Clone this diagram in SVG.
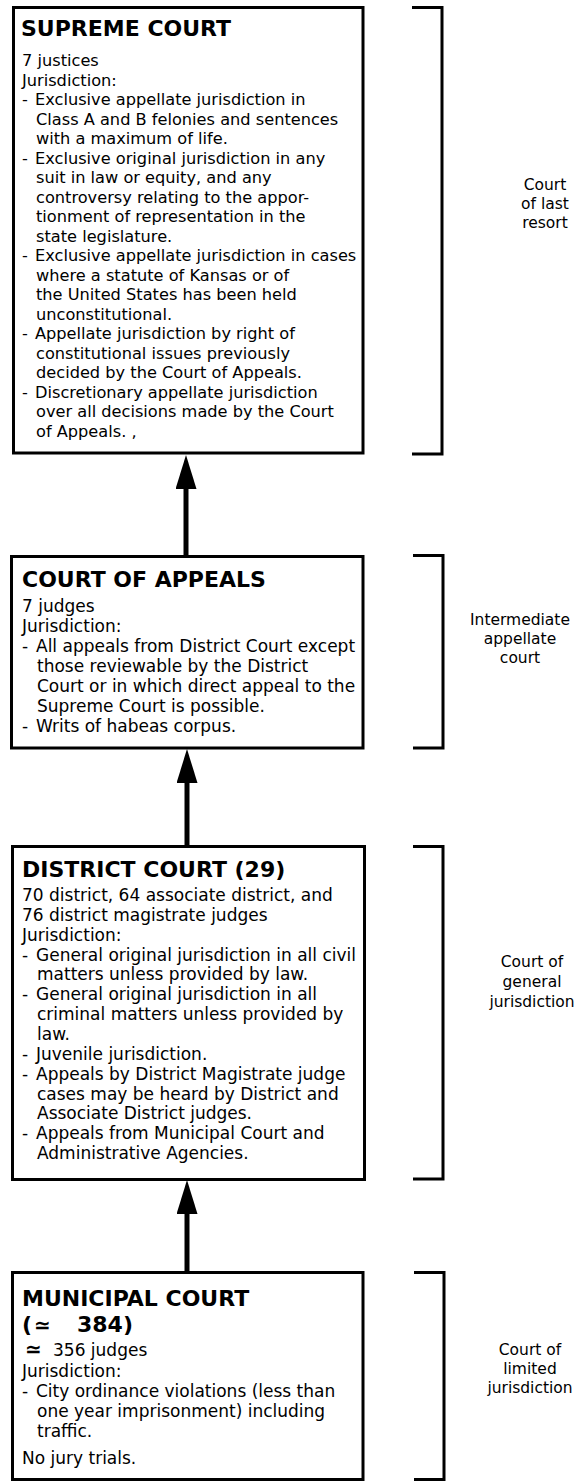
<svg xmlns="http://www.w3.org/2000/svg" width="579" height="1482" viewBox="0 0 579 1482">
<style>
.box{fill:#fff;stroke:#000;stroke-width:3}
.bracket{fill:none;stroke:#000;stroke-width:3}
.title{font-family:"DejaVu Sans",sans-serif;font-weight:bold;font-size:22px;fill:#000}
.body{font-family:"DejaVu Sans",sans-serif;font-size:17px;fill:#000}
.sbody{font-family:"DejaVu Sans",sans-serif;font-size:16.2px;fill:#000}
.label{font-family:"DejaVu Sans",sans-serif;font-size:15.5px;text-anchor:middle;fill:#000}
.conn{stroke:#000;stroke-width:5;fill:none;marker-end:url(#head)}
</style>
<defs>
<marker id="head" markerUnits="userSpaceOnUse" markerWidth="34" markerHeight="21" viewBox="0 0 34 21" refX="0" refY="10.5" orient="auto">
<path d="M0,0 L34,10.5 L0,21 Z" fill="#000"/>
</marker>
</defs>
<rect width="579" height="1482" fill="#fff"/>

<g id="connectors">
<line class="conn" x1="186" y1="556" x2="186" y2="489"/>
<line class="conn" x1="187" y1="846" x2="187" y2="783"/>
<line class="conn" x1="187" y1="1272" x2="187" y2="1214"/>
</g>

<g id="supreme-court">
<rect class="box" x="13.5" y="7.5" width="349.5" height="445.5"/>
<text class="title" x="21" y="36" font-size="21.5">SUPREME COURT</text>
<text class="sbody" x="22" y="66">7 justices</text>
<text class="sbody" x="22" y="85.5">Jurisdiction:</text>
<text class="sbody" y="105"><tspan x="22">- </tspan><tspan x="35">Exclusive appellate jurisdiction in</tspan></text>
<text class="sbody" x="36" y="124.5">Class A and B felonies and sentences</text>
<text class="sbody" x="36" y="144">with a maximum of life.</text>
<text class="sbody" y="163.5"><tspan x="22">- </tspan><tspan x="35">Exclusive original jurisdiction in any</tspan></text>
<text class="sbody" x="36" y="183">suit in law or equity, and any</text>
<text class="sbody" x="36" y="202.5">controversy relating to the appor-</text>
<text class="sbody" x="36" y="222">tionment of representation in the</text>
<text class="sbody" x="36" y="241.5">state legislature.</text>
<text class="sbody" y="261"><tspan x="22">- </tspan><tspan x="35">Exclusive appellate jurisdiction in cases</tspan></text>
<text class="sbody" x="36" y="280.5">where a statute of Kansas or of</text>
<text class="sbody" x="36" y="300">the United States has been held</text>
<text class="sbody" x="36" y="319.5">unconstitutional.</text>
<text class="sbody" y="339"><tspan x="22">- </tspan><tspan x="35">Appellate jurisdiction by right of</tspan></text>
<text class="sbody" x="36" y="358.5">constitutional issues previously</text>
<text class="sbody" x="36" y="378">decided by the Court of Appeals.</text>
<text class="sbody" y="397.5"><tspan x="22">- </tspan><tspan x="35">Discretionary appellate jurisdiction</tspan></text>
<text class="sbody" x="36" y="417">over all decisions made by the Court</text>
<text class="sbody" x="36" y="436.5">of Appeals. ,</text>
</g>

<g id="tier-last-resort">
<polyline class="bracket" points="412,7.5 442,7.5 442,454 412,454"/>
<text class="label" x="545" y="190">Court</text>
<text class="label" x="545" y="209">of last</text>
<text class="label" x="545" y="228">resort</text>
</g>

<g id="court-of-appeals">
<rect class="box" x="11.5" y="556.5" width="351.5" height="191.5"/>
<text class="title" x="22" y="587">COURT OF APPEALS</text>
<text class="body" x="22" y="612">7 judges</text>
<text class="body" x="22" y="632">Jurisdiction:</text>
<text class="body" y="652"><tspan x="22">- </tspan><tspan x="36">All appeals from District Court except</tspan></text>
<text class="body" x="37" y="672">those reviewable by the District</text>
<text class="body" x="37" y="692">Court or in which direct appeal to the</text>
<text class="body" x="37" y="711.5">Supreme Court is possible.</text>
<text class="body" y="731.5"><tspan x="22">- </tspan><tspan x="36">Writs of habeas corpus.</tspan></text>
</g>

<g id="tier-intermediate">
<polyline class="bracket" points="413,555.5 443,555.5 443,748 413,748"/>
<text class="label" x="520" y="625">Intermediate</text>
<text class="label" x="520" y="644">appellate</text>
<text class="label" x="520" y="663">court</text>
</g>

<g id="district-court">
<rect class="box" x="12.5" y="846.5" width="352" height="333"/>
<text class="title" x="22" y="877" font-size="22.6">DISTRICT COURT (29)</text>
<text class="body" x="22" y="901">70 district, 64 associate district, and</text>
<text class="body" x="22" y="921">76 district magistrate judges</text>
<text class="body" x="22" y="940.7">Jurisdiction:</text>
<text class="body" y="960.5"><tspan x="22">- </tspan><tspan x="36">General original jurisdiction in all civil</tspan></text>
<text class="body" x="37" y="980.4">matters unless provided by law.</text>
<text class="body" y="1000.2"><tspan x="22">- </tspan><tspan x="36">General original jurisdiction in all</tspan></text>
<text class="body" x="37" y="1020">criminal matters unless provided by</text>
<text class="body" x="37" y="1040">law.</text>
<text class="body" y="1060"><tspan x="22">- </tspan><tspan x="36">Juvenile jurisdiction.</tspan></text>
<text class="body" y="1080"><tspan x="22">- </tspan><tspan x="36">Appeals by District Magistrate judge</tspan></text>
<text class="body" x="37" y="1099.5">cases may be heard by District and</text>
<text class="body" x="37" y="1119">Associate District judges.</text>
<text class="body" y="1139"><tspan x="22">- </tspan><tspan x="36">Appeals from Municipal Court and</tspan></text>
<text class="body" x="37" y="1159">Administrative Agencies.</text>
</g>

<g id="tier-general">
<polyline class="bracket" points="413,846.5 443,846.5 443,1179 413,1179"/>
<text class="label" x="532" y="967">Court of</text>
<text class="label" x="532" y="987">general</text>
<text class="label" x="532" y="1007">jurisdiction</text>
</g>

<g id="municipal-court">
<rect class="box" x="12.5" y="1272.5" width="350.5" height="207"/>
<text class="title" x="22" y="1306" font-size="22.8">MUNICIPAL COURT</text>
<text class="title" y="1332" font-size="19"><tspan x="22">(</tspan><tspan x="34" font-size="20">≃</tspan><tspan x="77">384)</tspan></text>
<text class="body" y="1356"><tspan x="25" font-size="20" font-weight="bold">≃</tspan><tspan x="53">356 judges</tspan></text>
<text class="body" x="22" y="1377">Jurisdiction:</text>
<text class="body" y="1397"><tspan x="22">- </tspan><tspan x="36">City ordinance violations (less than</tspan></text>
<text class="body" x="37" y="1417">one year imprisonment) including</text>
<text class="body" x="37" y="1437">traffic.</text>
<text class="body" x="22" y="1464">No jury trials.</text>
</g>

<g id="tier-limited">
<polyline class="bracket" points="414,1272.5 444,1272.5 444,1479.5 414,1479.5"/>
<text class="label" x="530" y="1355">Court of</text>
<text class="label" x="530" y="1374">limited</text>
<text class="label" x="530" y="1393">jurisdiction</text>
</g>
</svg>
